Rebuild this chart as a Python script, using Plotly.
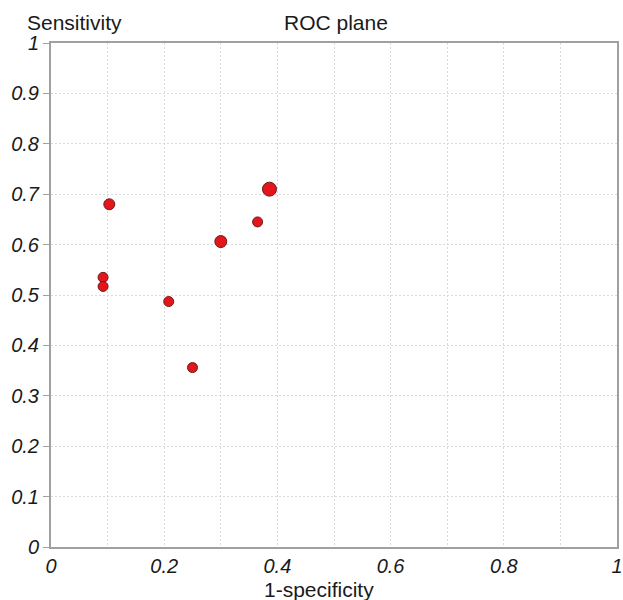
import plotly.graph_objects as go

# Data (1-specificity, sensitivity)
fpr = [0.103, 0.386, 0.365, 0.300, 0.092, 0.092, 0.208, 0.250]
sens = [0.680, 0.710, 0.645, 0.606, 0.535, 0.517, 0.487, 0.356]
marker_sizes = [11, 14, 10, 12, 10, 10, 10, 10]

x_ticks = [0, 0.2, 0.4, 0.6, 0.8, 1]
x_tick_labels = ["0", "0.2", "0.4", "0.6", "0.8", "1"]
x_minor_grid = [0.1, 0.3, 0.5, 0.7, 0.9]
y_ticks = [0, 0.1, 0.2, 0.3, 0.4, 0.5, 0.6, 0.7, 0.8, 0.9, 1]
y_tick_labels = ["0", "0.1", "0.2", "0.3", "0.4", "0.5", "0.6", "0.7", "0.8", "0.9", "1"]

FONT = "Liberation Sans, Arial, sans-serif"
TXT = "#1a1a1a"
GRID = "#d9d9d9"
FRAME = "#a0a0a0"

fig = go.Figure()
fig.add_trace(go.Scatter(
    x=fpr, y=sens, mode="markers",
    marker=dict(size=marker_sizes, color="#e3161c", opacity=1,
                line=dict(color="#6e1a1a", width=1)),
    showlegend=False, hoverinfo="x+y",
))

common = dict(showgrid=True, gridcolor=GRID, gridwidth=1, griddash="2px,2px",
              zeroline=False, showline=True, linecolor=FRAME, linewidth=2,
              mirror=True, automargin=False,
              tickfont=dict(family=FONT, size=20, color=TXT, style="italic"))

fig.update_xaxes(range=[0, 1], tickvals=x_ticks, ticktext=x_tick_labels, ticks="",
                 minor=dict(tickvals=x_minor_grid, showgrid=True, gridcolor=GRID,
                            griddash="2px,2px", ticks=""),
                 **common)
fig.update_yaxes(range=[0, 1], tickvals=y_ticks, ticktext=y_tick_labels,
                 ticks="outside", ticklen=6, tickcolor=FRAME, tickwidth=1,
                 **common)

fig.update_layout(
    width=623, height=600,
    margin=dict(l=51, r=6, t=43, b=53, autoexpand=False),
    plot_bgcolor="white", paper_bgcolor="white",
    font=dict(family=FONT, color=TXT),
    annotations=[
        dict(text="Sensitivity", xref="paper", yref="paper", x=-0.0454, y=1.040,
             xanchor="left", yanchor="middle", showarrow=False,
             font=dict(family=FONT, size=21, color=TXT)),
        dict(text="ROC plane", xref="paper", yref="paper", x=0.503, y=1.040,
             xanchor="center", yanchor="middle", showarrow=False,
             font=dict(family=FONT, size=21, color=TXT)),
        dict(text="1-specificity", xref="paper", yref="paper", x=0.473, y=-0.085,
             xanchor="center", yanchor="middle", showarrow=False,
             font=dict(family=FONT, size=21, color=TXT)),
    ],
)

fig.write_html("out.html",
               config={"displayModeBar": False},
               post_script="document.body.style.margin='0';document.body.style.overflow='hidden';")
